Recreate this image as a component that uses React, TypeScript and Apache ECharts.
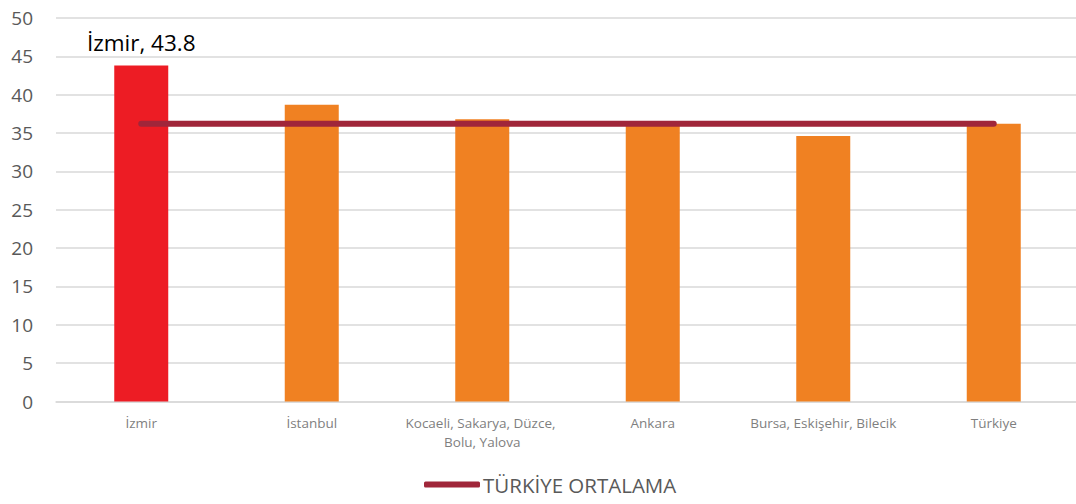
import React, { useEffect, useRef } from "react";
import * as echarts from "echarts";

const categories = [
  "İzmir",
  "İstanbul",
  "Kocaeli, Sakarya, Düzce, Bolu, Yalova",
  "Ankara",
  "Bursa, Eskişehir, Bilecik",
  "Türkiye",
];
const values = [43.8, 38.7, 36.8, 36.1, 34.6, 36.2];
const average = [36.2, 36.2, 36.2, 36.2, 36.2, 36.2];
const averageName = "TÜRKİYE ORTALAMA";
const highlightIndex = 0;

const FONT = "'Open Sans', sans-serif";

export default function App() {
  const ref = useRef<HTMLDivElement>(null);
  useEffect(() => {
    if (!ref.current) return;
    const chart = echarts.init(ref.current, undefined, { renderer: "svg" });
    chart.setOption({
      animation: false,
      textStyle: { fontFamily: FONT },
      grid: {
        left: 56,
        right: -3,
        top: 18,
        bottom: 102.5,
        containLabel: false,
        outerBoundsMode: "none",
      },
      legend: {
        data: [averageName],
        bottom: 4,
        left: 419,
        icon: "roundRect",
        itemWidth: 56,
        itemHeight: 6,
        itemGap: 4,
        textStyle: { fontFamily: FONT, fontSize: 20.5, color: "#595959", padding: [0, 0, 0, -2] },
      },
      xAxis: {
        type: "category",
        data: categories,
        axisLine: { show: true, lineStyle: { color: "#d9d9d9", width: 1.5 } },
        axisTick: { show: false },
        axisLabel: {
          interval: 0,
          color: "#7f7f7f",
          fontFamily: FONT,
          fontSize: 13.5,
          lineHeight: 19,
          margin: 12,
          width: 170,
          overflow: "break",
        },
      },
      yAxis: {
        type: "value",
        min: 0,
        max: 50,
        interval: 5,
        axisLine: { show: false },
        axisTick: { show: false },
        splitLine: { lineStyle: { color: "#d9d9d9", width: 1.5 } },
        axisLabel: { color: "#595959", fontFamily: FONT, fontSize: 19, margin: 23 },
      },
      series: [
        {
          type: "bar",
          name: "values",
          barWidth: 54,
          data: values.map((v, i) => ({
            value: v,
            itemStyle: { color: i === highlightIndex ? "#ED1C24" : "#F08122" },
            label:
              i === highlightIndex
                ? {
                    show: true,
                    position: "top",
                    distance: 12,
                    formatter: "{b}, {c}",
                    color: "#000",
                    fontFamily: FONT,
                    fontSize: 22.5,
                  }
                : { show: false },
          })),
        },
        {
          type: "line",
          name: averageName,
          data: average,
          symbol: "none",
          showSymbol: false,
          itemStyle: { color: "#A0263A" },
          lineStyle: { color: "#A0263A", width: 6, cap: "round" },
          z: 5,
        },
      ],
    });
    return () => chart.dispose();
  }, []);
  return (
    <div
      ref={ref}
      style={{ position: "absolute", left: 0, top: 0, width: 1076, height: 504, background: "#fff" }}
    />
  );
}
